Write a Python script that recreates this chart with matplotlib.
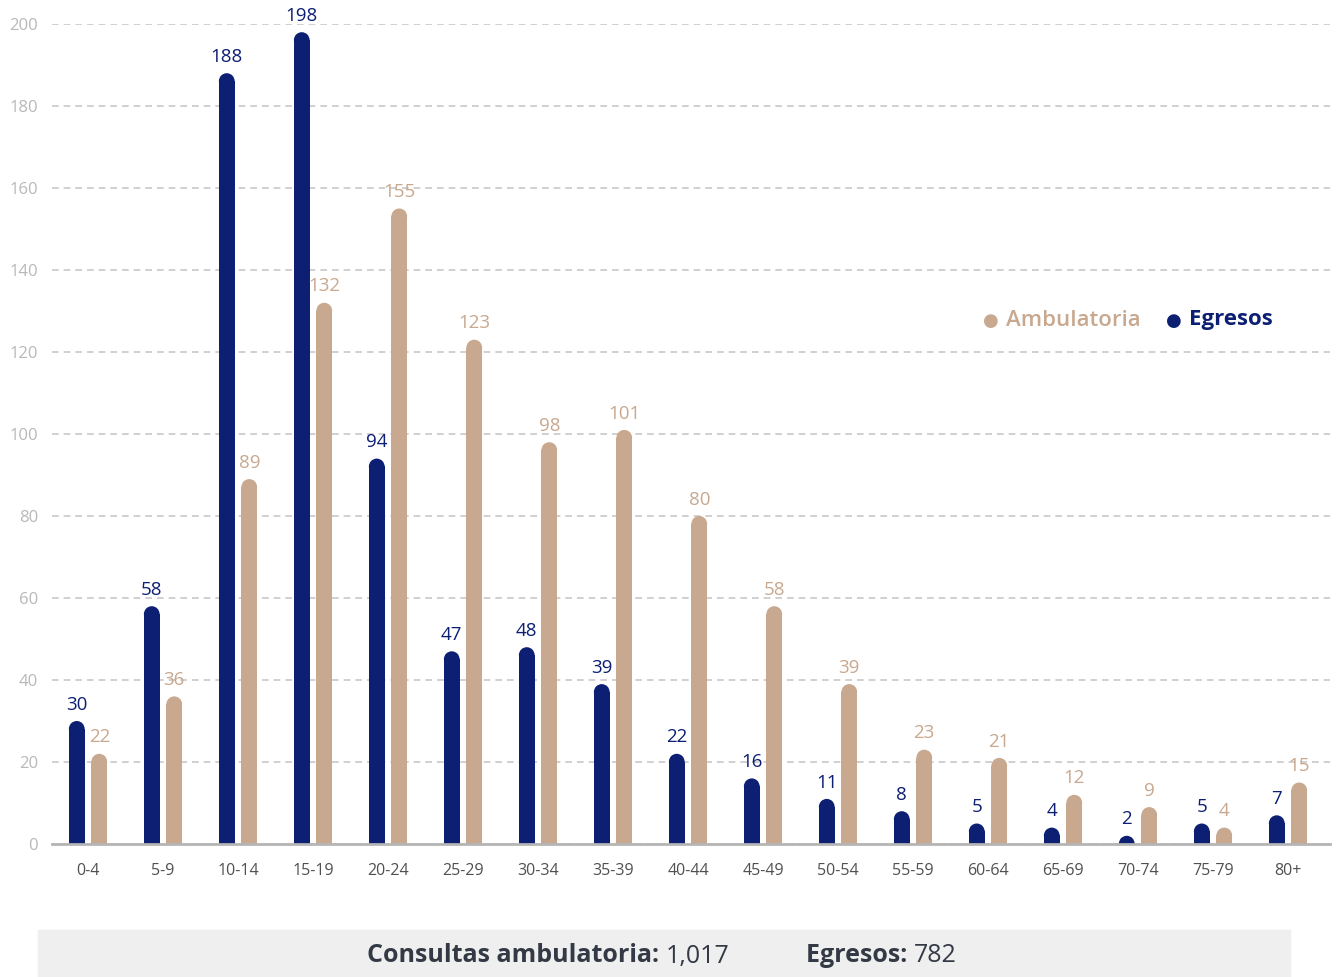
import matplotlib.pyplot as plt
from matplotlib.patches import Ellipse, Rectangle
import numpy as np

grupos = ["0-4", "5-9", "10-14", "15-19", "20-24", "25-29", "30-34", "35-39",
          "40-44", "45-49", "50-54", "55-59", "60-64", "65-69", "70-74", "75-79", "80+"]
egresos = [30, 58, 188, 198, 94, 47, 48, 39, 22, 16, 11, 8, 5, 4, 2, 5, 7]
ambulatoria = [22, 36, 89, 132, 155, 123, 98, 101, 80, 58, 39, 23, 21, 12, 9, 4, 15]
total_amb = "1,017"
total_egr = "782"

NAVY = "#0c1f73"
TAN = "#c8a88f"
DARK = "#333a45"

plt.rcParams['font.family'] = ['Open Sans', 'DejaVu Sans']

W, H, DPI = 13.36, 9.77, 100
fig = plt.figure(figsize=(W, H), dpi=DPI)
ax = fig.add_axes([52 / 1336, 133 / 977, 1278 / 1336, 820 / 977])

x = np.arange(len(grupos))
xmin, xmax = -0.48, 16.56
ymax = 200
ax.set_xlim(xmin, xmax)
ax.set_ylim(0, ymax)

bw = 0.21
off = 0.15
# radius of rounded top in data units (y), so the cap looks circular
px_x = 1278 / (xmax - xmin)
px_y = 820 / ymax
r_y = (bw * px_x / 2) / px_y


def rounded_bars(xs, vals, color):
    for xi, v in zip(xs, vals):
        r = min(r_y, v)
        ax.add_patch(Rectangle((xi - bw / 2, 0), bw, v - r, color=color, lw=0, zorder=3))
        ax.add_patch(Ellipse((xi, v - r), bw, 2 * r, color=color, lw=0, zorder=3))
        ax.text(xi, v + 1.8, str(v), ha="center", va="bottom", fontsize=13.5,
                fontweight="medium", color=color, zorder=4, clip_on=False)


rounded_bars(x - off, egresos, NAVY)
rounded_bars(x + off, ambulatoria, TAN)

ax.set_yticks(range(0, 201, 20))
ax.yaxis.grid(True, color="#c8c8c8", linestyle=(0, (4, 3)), linewidth=1.2)
ax.set_axisbelow(True)
for s in ["top", "right", "left"]:
    ax.spines[s].set_visible(False)
ax.spines["bottom"].set_color("#b5b5b5")
ax.spines["bottom"].set_linewidth(2)
ax.spines["bottom"].set_zorder(5)
ax.tick_params(axis="y", length=0, labelsize=12, labelcolor="#b8b8b8", pad=10)
ax.tick_params(axis="x", length=0, labelsize=11.5, labelcolor="#505050", pad=14)
ax.set_xticks(x)
ax.set_xticklabels(grupos)

# legend
fig.text(991 / 1336, 1 - 321 / 977, "\u25cf", color=TAN, fontsize=13, ha="center", va="center")
fig.text(1006 / 1336, 1 - 320 / 977, "Ambulatoria", color=TAN, fontsize=16, ha="left",
         va="center", fontweight="semibold")
fig.text(1174 / 1336, 1 - 321 / 977, "\u25cf", color=NAVY, fontsize=13, ha="center", va="center")
fig.text(1189 / 1336, 1 - 320 / 977, "Egresos", color=NAVY, fontsize=16, ha="left",
         va="center", fontweight="bold")

# bottom summary box
fig.patches.append(Rectangle((38 / 1336, 0), 1252 / 1336, 47 / 977, transform=fig.transFigure,
                             color="#efefef", zorder=0))
ty = 1 - 956 / 977
renderer = fig.canvas.get_renderer()


def run_text(x0, parts):
    xp = x0
    for s, w in parts:
        t = fig.text(xp / 1336, ty, s, fontsize=18, fontweight=w, color=DARK,
                     ha="left", va="center")
        xp += t.get_window_extent(renderer).width


run_text(367, [("Consultas ambulatoria: ", "bold"), (total_amb, "normal")])
run_text(806, [("Egresos: ", "bold"), (total_egr, "normal")])

fig.savefig("out.png", dpi=DPI)
